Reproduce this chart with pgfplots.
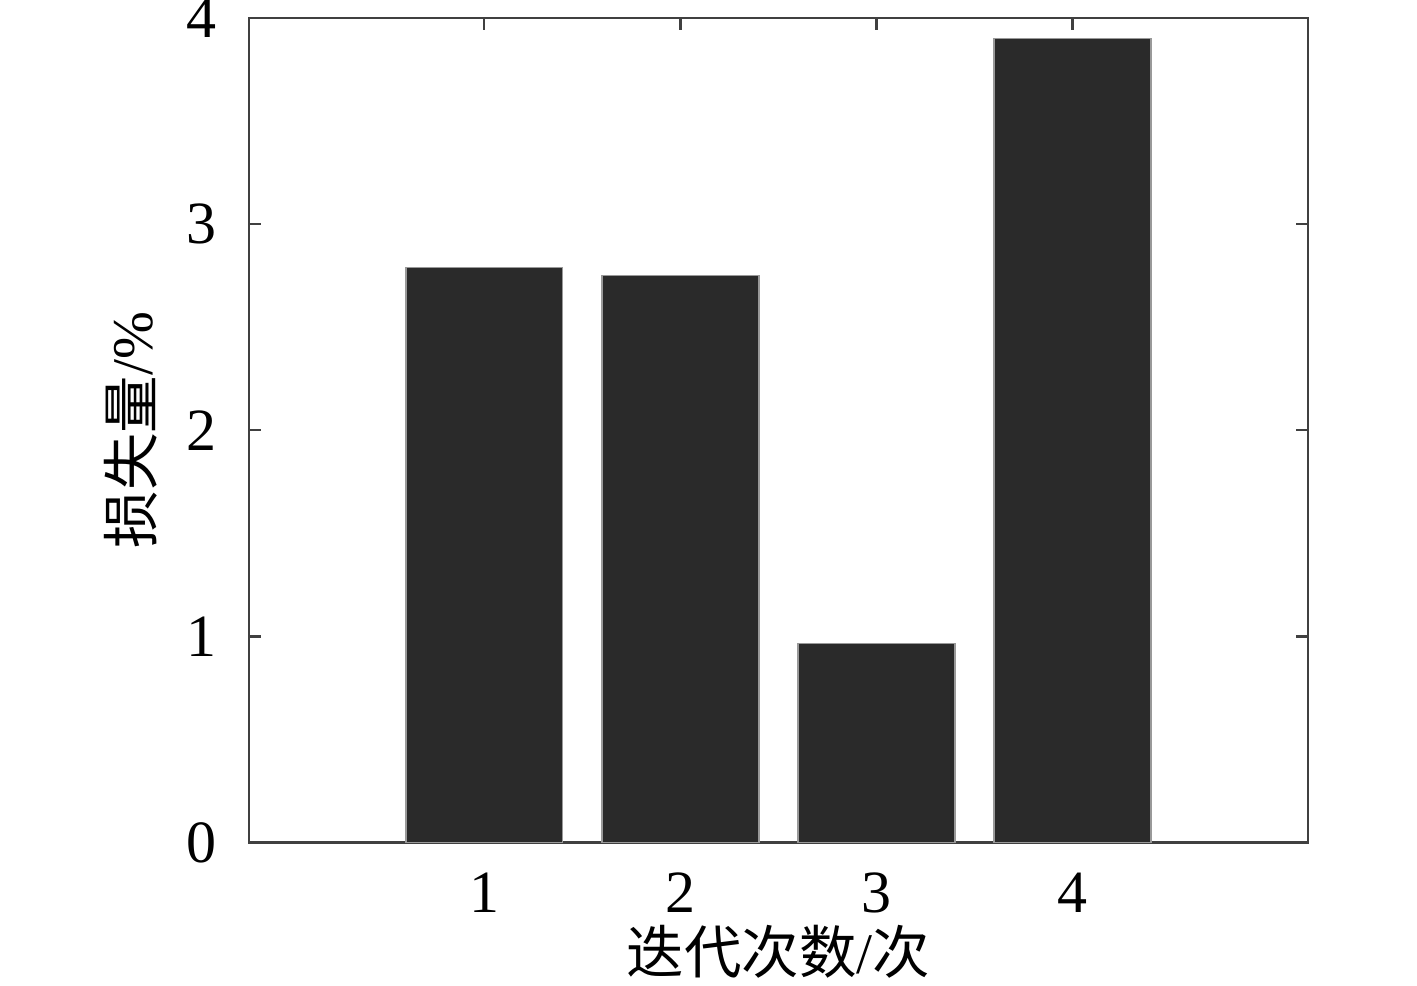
\documentclass[border=0pt]{standalone}
\usepackage{fontspec}
\setmainfont{Liberation Serif}
\newfontfamily\cjk{Noto Sans CJK SC}
\usepackage{pgfplots}
\pgfplotsset{compat=1.18}
\definecolor{barfill}{HTML}{2A2A2A}
\definecolor{axisgray}{HTML}{404040}

\begin{document}
\begin{tikzpicture}
\begin{axis}[
  scale only axis,
  width=212pt,
  height=165pt,
  ybar,
  bar width=0.8,
  xmin=-0.2, xmax=5.2,
  ymin=0, ymax=4,
  xtick={1,2,3,4},
  ytick={0,1,2,3,4},
  tick align=inside,
  major tick length=2.4pt,
  axis line style={axisgray, line width=0.5pt},
  every tick/.style={axisgray, line width=0.5pt},
  tick label style={font=\fontsize{12}{14}\selectfont},
  /pgf/number format/assume math mode=true,
  xticklabel style={yshift=-2.5pt},
  yticklabel style={xshift=-3pt},
  xlabel={\cjk 迭代次数\rmfamily/\cjk 次},
  ylabel={\cjk 损失量\rmfamily/\%},
  label style={font=\fontsize{11.5}{14}\selectfont},
  xlabel style={yshift=4.5pt},
  ylabel style={yshift=-1pt},
]
\addplot[fill=barfill, draw=gray!80, line width=0.3pt] coordinates {(1,2.79) (2,2.75) (3,0.965) (4,3.90)};
\coordinate (bl) at (rel axis cs:0,0);
\coordinate (tr) at (rel axis cs:1,1);
\end{axis}
\pgfresetboundingbox
\path[use as bounding box] ([xshift=-49.8pt,yshift=-28.6pt]bl) rectangle ([xshift=21.8pt,yshift=3.6pt]tr);
\end{tikzpicture}
\end{document}
